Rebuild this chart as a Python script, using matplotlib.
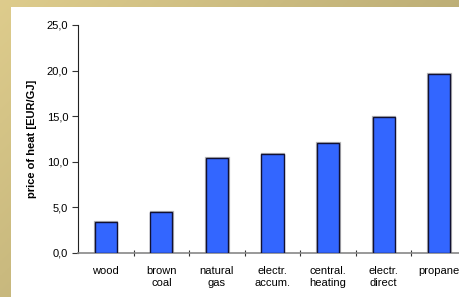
import numpy as np
import matplotlib
matplotlib.use("Agg")
import matplotlib.pyplot as plt
from matplotlib.patches import Rectangle

categories = ["wood", "brown\ncoal", "natural\ngas", "electr.\naccum.", "central.\nheating", "electr.\ndirect", "propane"]
prices = [3.4, 4.5, 10.45, 10.9, 12.05, 14.9, 19.6]
yticks = [0, 5, 10, 15, 20, 25]
ytick_labels = ["0,0", "5,0", "10,0", "15,0", "20,0", "25,0"]

plt.rcParams['font.family'] = ['Liberation Sans', 'DejaVu Sans']

W, H = 460, 297
fig = plt.figure(figsize=(W/100, H/100), dpi=100)

# gold gradient background
bg = fig.add_axes([0, 0, 1, 1])
bg.set_axis_off()
xx = np.linspace(0, 1, 200)
yy = np.linspace(0, 1, 200)
X, Y = np.meshgrid(xx, yy)
c1 = np.array([0.87, 0.80, 0.55])
c2 = np.array([0.66, 0.61, 0.41])
t = np.clip(0.6 * X + 0.4 * Y, 0, 1)[..., None]
img = c1 * (1 - t) + c2 * t
bg.imshow(img, extent=[0, 1, 0, 1], aspect='auto', origin='upper')
bg.add_patch(Rectangle((11/W, 0), 1, (H - 7)/H, facecolor='white', edgecolor='none'))
bg.set_xlim(0, 1)
bg.set_ylim(0, 1)

left = 78/W
bottom = (H - 253)/H
height = (253 - 25)/H
width = (467 - 78)/W
ax = fig.add_axes([left, bottom, width, height])
ax.patch.set_alpha(0)

x = np.arange(len(categories))
ax.bar(x + 0.008, prices, width=0.405, color='none', edgecolor='#999999', linewidth=1.6, alpha=0.7, zorder=2)
ax.bar(x, prices, width=0.40, color='#3366ff', edgecolor='#111133', linewidth=1.0, zorder=3)

ax.set_xlim(-0.5, len(categories) - 0.5)
ax.set_ylim(0, 25)
ax.set_yticks(yticks)
ax.set_yticklabels(ytick_labels, fontsize=8)
ax.set_xticks(np.arange(len(categories)) + 0.5)
ax.set_xticklabels([])
ax.set_xticks(x, minor=True)
ax.set_xticklabels(categories, minor=True, fontsize=8, linespacing=1.25)
ax.tick_params(axis='x', which='minor', length=0, pad=9)
ax.tick_params(axis='x', which='major', length=4, direction='inout', color='#333333')
ax.tick_params(axis='y', length=4, direction='out', color='#333333', pad=3)
for s in ['top', 'right']:
    ax.spines[s].set_visible(False)
ax.spines['left'].set_color('#222222')
ax.spines['bottom'].set_color('#888888')
ax.spines['bottom'].set_linewidth(1.2)
ax.set_ylabel("price of heat [EUR/GJ]", fontsize=8, fontweight='bold', labelpad=7)

fig.savefig("out.png", dpi=100)
